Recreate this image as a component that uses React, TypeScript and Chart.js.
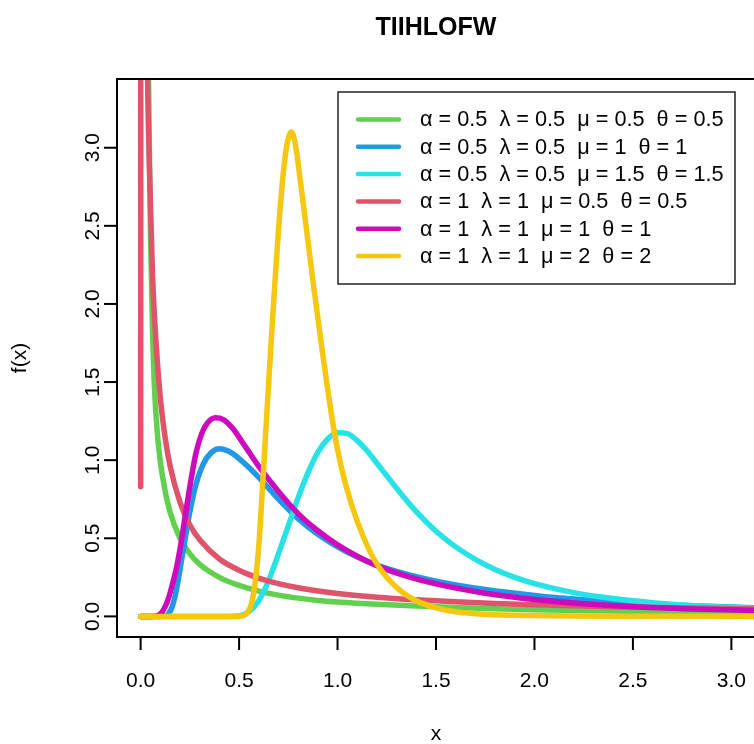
import React, { useEffect, useRef } from 'react';
import { Chart, registerables } from 'chart.js';

Chart.register(...registerables);

const chartTitle = 'TIIHLOFW';
const xTitle = 'x';
const yTitle = 'f(x)';
const xTicks = [0, 0.5, 1, 1.5, 2, 2.5, 3];
const yTicks = [0, 0.5, 1, 1.5, 2, 2.5, 3];

const alphaVals = [0.5, 0.5, 0.5, 1, 1, 1];
const lambdaVals = [0.5, 0.5, 0.5, 1, 1, 1];
const muVals = [0.5, 1, 1.5, 0.5, 1, 2];
const thetaVals = [0.5, 1, 1.5, 0.5, 1, 2];
const colors = ['#61D04F', '#2297E6', '#28E2E5', '#DF536B', '#CD0BBC', '#F5C710'];

// series 1: alpha=0.5 lambda=0.5 mu=0.5 theta=0.5
const s1x = [0.01, 0.02, 0.03, 0.04, 0.05, 0.06, 0.07, 0.085, 0.1, 0.125, 0.15, 0.2, 0.25, 0.3, 0.4, 0.5, 0.6, 0.7, 0.8, 0.9, 1.0, 1.2, 1.4, 1.6, 1.8, 2.0, 2.4, 2.8, 3.15];
const s1y = [25, 9, 5, 3.44, 2.45, 1.85, 1.47, 1.17, 0.99, 0.8, 0.665, 0.5, 0.4, 0.333, 0.25, 0.198, 0.162, 0.136, 0.117, 0.102, 0.092, 0.077, 0.066, 0.057, 0.049, 0.043, 0.034, 0.027, 0.023];

// series 2: alpha=0.5 lambda=0.5 mu=1 theta=1
const s2x = [0, 0.1, 0.12, 0.14, 0.16, 0.18, 0.2, 0.22, 0.25, 0.28, 0.32, 0.36, 0.4, 0.45, 0.5, 0.6, 0.7, 0.8, 0.9, 1.0, 1.1, 1.2, 1.35, 1.5, 1.75, 2.0, 2.25, 2.5, 2.8, 3.15];
const s2y = [0, 0, 0.002, 0.015, 0.06, 0.16, 0.3, 0.45, 0.67, 0.84, 0.98, 1.05, 1.073, 1.055, 1.01, 0.89, 0.75, 0.625, 0.525, 0.445, 0.38, 0.328, 0.27, 0.226, 0.172, 0.134, 0.106, 0.086, 0.068, 0.054];

// series 3: alpha=0.5 lambda=0.5 mu=1.5 theta=1.5
const s3x = [0, 0.45, 0.5, 0.55, 0.6, 0.65, 0.7, 0.75, 0.8, 0.85, 0.9, 0.95, 1.0, 1.05, 1.1, 1.15, 1.2, 1.3, 1.4, 1.5, 1.6, 1.7, 1.8, 1.9, 2.0, 2.2, 2.4, 2.6, 2.8, 3.0, 3.15];
const s3y = [0, 0, 0.003, 0.03, 0.1, 0.23, 0.4, 0.58, 0.76, 0.92, 1.05, 1.135, 1.175, 1.17, 1.125, 1.06, 0.98, 0.82, 0.67, 0.545, 0.445, 0.365, 0.3, 0.25, 0.21, 0.152, 0.114, 0.088, 0.07, 0.058, 0.051];

// series 4: alpha=1 lambda=1 mu=0.5 theta=0.5
const s4x = [0, 0.004, 0.012, 0.022, 0.035, 0.045, 0.06, 0.08, 0.1, 0.125, 0.15, 0.2, 0.25, 0.3, 0.4, 0.5, 0.6, 0.7, 0.8, 0.9, 1.0, 1.2, 1.4, 1.6, 1.8, 2.0, 2.4, 2.8, 3.15];
const s4y = [0.83, 16, 8, 5, 3.44, 2.85, 2.2, 1.72, 1.4, 1.14, 0.96, 0.73, 0.585, 0.49, 0.367, 0.295, 0.245, 0.21, 0.183, 0.163, 0.147, 0.123, 0.106, 0.093, 0.082, 0.074, 0.062, 0.053, 0.047];

// series 5: alpha=1 lambda=1 mu=1 theta=1
const s5x = [0, 0.06, 0.08, 0.1, 0.12, 0.14, 0.16, 0.18, 0.2, 0.22, 0.25, 0.28, 0.31, 0.34, 0.38, 0.42, 0.47, 0.53, 0.6, 0.7, 0.8, 0.9, 1.0, 1.1, 1.2, 1.35, 1.5, 1.75, 2.0, 2.25, 2.5, 2.8, 3.15];
const s5y = [0, 0, 0.003, 0.015, 0.05, 0.11, 0.2, 0.3, 0.43, 0.59, 0.83, 1.04, 1.17, 1.24, 1.272, 1.26, 1.2, 1.09, 0.96, 0.8, 0.658, 0.548, 0.458, 0.385, 0.325, 0.258, 0.208, 0.148, 0.108, 0.081, 0.062, 0.048, 0.037];

// series 6: alpha=1 lambda=1 mu=2 theta=2
const s6x = [0, 0.5, 0.52, 0.54, 0.56, 0.58, 0.6, 0.62, 0.64, 0.66, 0.68, 0.7, 0.72, 0.74, 0.755, 0.765, 0.775, 0.79, 0.812, 0.846, 0.879, 0.914, 0.948, 0.981, 1.02, 1.075, 1.134, 1.2, 1.3, 1.4, 1.5, 1.6, 1.75, 2.0, 2.5, 3.15];
const s6y = [0, 0, 0.004, 0.02, 0.07, 0.2, 0.45, 0.85, 1.28, 1.7, 2.1, 2.47, 2.78, 3.0, 3.08, 3.1, 3.08, 2.99, 2.78, 2.44, 2.11, 1.78, 1.47, 1.2, 0.95, 0.7, 0.5, 0.335, 0.185, 0.1, 0.055, 0.03, 0.014, 0.005, 0.001, 0];

const seriesX = [s1x, s2x, s3x, s4x, s5x, s6x];
const seriesY = [s1y, s2y, s3y, s4y, s5y, s6y];

const FONT = '"Liberation Sans", Arial, Helvetica, sans-serif';

const labelFor = (i: number) =>
  `\u03B1 = ${alphaVals[i]}  \u03BB = ${lambdaVals[i]}  \u03BC = ${muVals[i]}  \u03B8 = ${thetaVals[i]}`;

const decorPlugin = {
  id: 'decor',
  afterDraw(chart: any) {
    const ctx = chart.ctx as CanvasRenderingContext2D;
    const a = chart.chartArea;
    const xs = chart.scales.x;
    const ys = chart.scales.y;
    ctx.save();
    ctx.strokeStyle = '#000';
    ctx.fillStyle = '#000';
    ctx.lineWidth = 2;
    ctx.strokeRect(a.left, a.top, a.right - a.left, a.bottom - a.top);

    ctx.font = `21px ${FONT}`;
    ctx.textAlign = 'center';
    ctx.textBaseline = 'middle';
    ctx.lineWidth = 2;
    for (const v of xTicks) {
      const px = xs.getPixelForValue(v);
      ctx.beginPath();
      ctx.moveTo(px, a.bottom);
      ctx.lineTo(px, a.bottom + 13);
      ctx.stroke();
      ctx.fillText(v.toFixed(1), px, a.bottom + 44);
    }
    for (const v of yTicks) {
      const py = ys.getPixelForValue(v);
      ctx.beginPath();
      ctx.moveTo(a.left, py);
      ctx.lineTo(a.left - 13, py);
      ctx.stroke();
      ctx.save();
      ctx.translate(a.left - 24, py);
      ctx.rotate(-Math.PI / 2);
      ctx.fillText(v.toFixed(1), 0, 0);
      ctx.restore();
    }
    const cx = (a.left + a.right) / 2;
    const cy = (a.top + a.bottom) / 2;
    ctx.fillText(xTitle, cx, a.bottom + 97);
    ctx.save();
    ctx.translate(a.left - 97, cy);
    ctx.rotate(-Math.PI / 2);
    ctx.fillText(yTitle, 0, 0);
    ctx.restore();

    ctx.font = `bold 25px ${FONT}`;
    ctx.fillText(chartTitle, cx, 28);

    // legend
    const lx = 338, ly = 92, lw = 397, lh = 192;
    ctx.fillStyle = '#fff';
    ctx.fillRect(lx, ly, lw, lh);
    ctx.strokeStyle = '#222';
    ctx.lineWidth = 1.5;
    ctx.strokeRect(lx, ly, lw, lh);
    ctx.font = `21.7px ${FONT}`;
    ctx.textAlign = 'left';
    ctx.textBaseline = 'middle';
    for (let i = 0; i < colors.length; i++) {
      const ry = 119.5 + i * 27.3;
      ctx.strokeStyle = colors[i];
      ctx.lineWidth = 4.5;
      ctx.lineCap = 'round';
      ctx.beginPath();
      ctx.moveTo(358, ry);
      ctx.lineTo(399, ry);
      ctx.stroke();
      ctx.fillStyle = '#000';
      ctx.fillText(labelFor(i), 420, ry + 1);
    }
    ctx.restore();
  },
};

export default function App() {
  const ref = useRef<HTMLCanvasElement | null>(null);
  useEffect(() => {
    if (!ref.current) return;
    const datasets = seriesX.map((xsArr, i) => ({
      data: xsArr.map((x, j) => ({ x, y: seriesY[i][j] })),
      borderColor: colors[i],
      backgroundColor: colors[i],
      borderWidth: 5.5,
      pointRadius: 0,
      fill: false,
      cubicInterpolationMode: 'monotone' as const,
      borderCapStyle: 'round' as const,
      borderJoinStyle: 'round' as const,
      clip: 0,
      order: colors.length - 1 - i,
    }));
    const chart = new Chart(ref.current, {
      type: 'line',
      data: { datasets },
      options: {
        responsive: false,
        animation: false,
        devicePixelRatio: 1,
        events: [],
        layout: { padding: { left: 117, top: 79, right: 0, bottom: 107 } },
        scales: {
          x: { type: 'linear', min: -0.12, max: 3.12, display: false },
          y: { type: 'linear', min: -0.132, max: 3.44, display: false },
        },
        plugins: { legend: { display: false }, tooltip: { enabled: false }, title: { display: false } },
      },
      plugins: [decorPlugin],
    });
    return () => chart.destroy();
  }, []);
  return (
    <div style={{ position: 'absolute', left: 0, top: 0, width: 754, height: 744, overflow: 'hidden', background: '#fff' }}>
      <canvas ref={ref} width={755} height={744} style={{ display: 'block', width: 755, height: 744 }} />
    </div>
  );
}
